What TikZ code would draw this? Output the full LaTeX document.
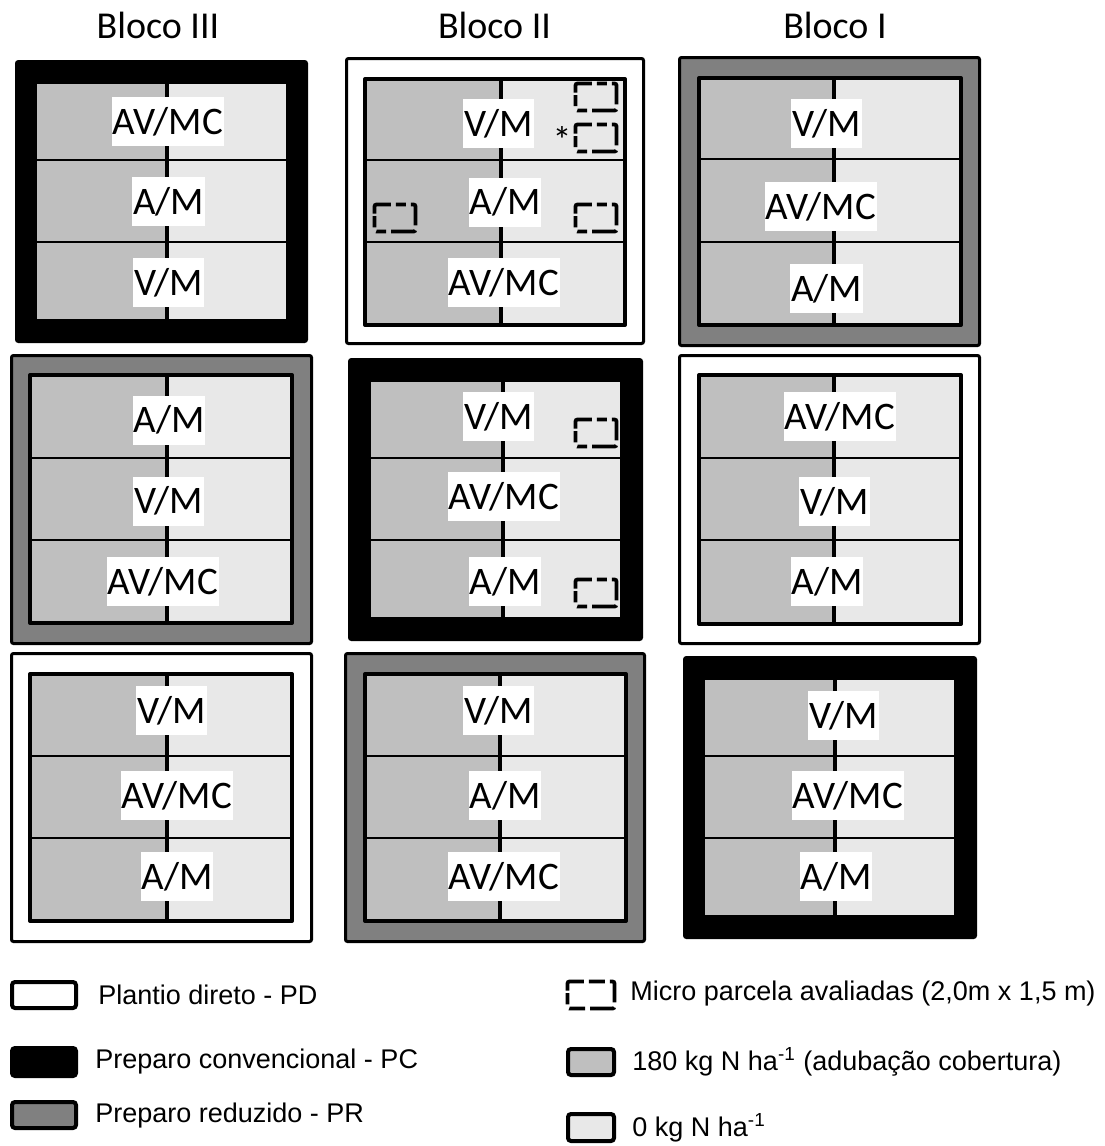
\documentclass[tikz,border=0pt]{standalone}
\usepackage{fontspec}
\setmainfont{Carlito}
\newfontfamily\legfont{Liberation Sans}
\definecolor{framegray}{HTML}{808080}
\definecolor{leftgray}{HTML}{BFBFBF}
\definecolor{rightgray}{HTML}{E8E8E8}
\newcommand\outerframe[6]{%
  \draw[outerst, fill=#2] (#3+1.5,#4+1.5) rectangle node[coordinate] (#1) {} (#5-1.5,#6-1.5);}
\newcommand\innerplot[8]{%
  \fill[leftgray] (#2+2,#3+2) rectangle (#6,#5-2);
  \fill[rightgray] (#6,#3+2) rectangle (#4-2,#5-2);
  \draw[hline] (#2+2,#7) -- (#4-2,#7) (#2+2,#8) -- (#4-2,#8);
  \draw[divline] (#6,#3+2) -- (#6,#5-2);
  \draw[innerst] (#2+2,#3+2) rectangle node[coordinate] (#1) {} (#4-2,#5-2);}
\newcommand\micro[3]{%
  \draw[microst] (#2+1.5,#3+15) -- (#2+1.5,#3+1.5) -- (#2+42.5,#3+1.5) -- (#2+42.5,#3+28.5) -- (#2+1.5,#3+28.5) -- cycle;
  \coordinate (#1) at (#2+22,#3+15);}
\tikzset{
  outerst/.style={draw=black, line width=1.5pt, rounded corners=1pt},
  innerst/.style={draw=black, line width=2pt, line join=round},
  hline/.style={draw=black, line width=1pt},
  divline/.style={draw=black, line width=2pt},
  lab/.style={fill=white, inner xsep=0.5pt, inner ysep=0pt, minimum height=24.5pt,
    text height=12.5pt, text depth=0pt, font=\fontsize{19.5pt}{23pt}\selectfont},
  ttl/.style={font=\fontsize{19pt}{23pt}\selectfont},
  microst/.style={draw=black, line width=1.9pt, rounded corners=1pt,
    dash pattern=on 12.25pt off 2.5pt on 5pt off 2.5pt on 12.25pt off 2.5pt, dash phase=35.75pt},
  legbox/.style={draw=black, line width=2pt, rounded corners=1.5pt},
  legtxt/.style={anchor=west, inner sep=0pt, font=\legfont\fontsize{13.5pt}{16pt}\selectfont}
}
\begin{document}
\begin{tikzpicture}[x=0.5pt,y=-0.5pt]
\useasboundingbox (0,0) rectangle (1104,1146);
% titles
\node[ttl] (t3) at (158,25) {Bloco III};
\node[ttl] (t2) at (494.5,25) {Bloco II};
\node[ttl] (t1) at (835,25) {Bloco I};
% row 1
\outerframe{o31}{black}{15}{60}{308}{343}
\innerplot{i31}{33}{80}{290}{323}{167}{160}{242}
\outerframe{o21}{white}{345}{57}{645}{345}
\innerplot{i21}{363}{77}{627}{327}{501}{160}{242}
\outerframe{o11}{framegray}{678}{56}{981}{347}
\innerplot{i11}{697}{76}{963}{327}{834}{159}{242}
% row 2
\outerframe{o32}{framegray}{10}{354}{313}{645}
\innerplot{i32}{28}{373}{294}{625}{167}{458}{540}
\outerframe{o22}{black}{348}{358}{643}{641}
\innerplot{i22}{367}{378}{624}{621}{503}{458}{540}
\outerframe{o12}{white}{678}{354}{981}{645}
\innerplot{i12}{697}{373}{963}{626}{834}{458}{540}
% row 3
\outerframe{o33}{white}{10}{652}{313}{943}
\innerplot{i33}{28}{672}{294}{923}{167}{756}{838}
\outerframe{o23}{framegray}{344}{652}{646}{943}
\innerplot{i23}{363}{672}{628}{923}{500}{756}{838}
\outerframe{o13}{black}{683}{656}{977}{939}
\innerplot{i13}{701}{676}{958}{919}{835}{756}{838}
% labels
\node[lab] (l31a) at (168,121.5) {AV/MC};
\node[lab] (l31b) at (168.5,201.5) {A/M};
\node[lab] (l31c) at (168.5,282.5) {V/M};
\node[lab] (l21a) at (498.5,123.5) {V/M};
\node[lab] (l21b) at (505,202) {A/M};
\node[lab] (l21c) at (504,282.5) {AV/MC};
\node[lab] (l11a) at (826.5,123.5) {V/M};
\node[lab] (l11b) at (821,206.5) {AV/MC};
\node[lab] (l11c) at (826.5,288.5) {A/M};
\node[lab] (l32a) at (169,420) {A/M};
\node[lab] (l32b) at (168.5,501) {V/M};
\node[lab] (l32c) at (163,581.5) {AV/MC};
\node[lab] (l22a) at (498.5,416.5) {V/M};
\node[lab] (l22b) at (504,496.5) {AV/MC};
\node[lab] (l22c) at (505,581.5) {A/M};
\node[lab] (l12a) at (840,416.5) {AV/MC};
\node[lab] (l12b) at (834.5,501.5) {V/M};
\node[lab] (l12c) at (827,581.5) {A/M};
\node[lab] (l33a) at (171.5,710.5) {V/M};
\node[lab] (l33b) at (177,795.5) {AV/MC};
\node[lab] (l33c) at (177,876.5) {A/M};
\node[lab] (l23a) at (498.5,710.5) {V/M};
\node[lab] (l23b) at (505,795.5) {A/M};
\node[lab] (l23c) at (504,876.5) {AV/MC};
\node[lab] (l13a) at (843.5,715.5) {V/M};
\node[lab] (l13b) at (848,795.5) {AV/MC};
\node[lab] (l13c) at (836,876.5) {A/M};
% micro plots
\micro{m1}{574}{82}
\micro{m2}{574}{123}
\node[ttl, inner sep=0pt] (ast) at (562,140) {*};
\micro{m3}{373}{203}
\micro{m4}{574}{203}
\micro{m5}{574}{418}
\micro{m6}{574}{578}
% legend
\draw[legbox, fill=white] (12,982) rectangle node[coordinate] (lg1) {} (76,1008);
\node[legtxt] (lt1) at (98,995) {Plantio direto - PD};
\draw[legbox, fill=black] (12,1048) rectangle node[coordinate] (lg2) {} (76,1076);
\node[legtxt] (lt2) at (95,1062) {Preparo convencional - PC};
\draw[legbox, fill=framegray] (12,1102) rectangle node[coordinate] (lg3) {} (76,1128);
\node[legtxt] (lt3) at (95,1116) {Preparo reduzido - PR};
\draw[microst, dash pattern=on 12.25pt off 2.5pt on 8pt off 2.5pt on 12.25pt off 2.5pt, dash phase=38.75pt]
  (567.5,995) -- (567.5,981.5) -- (614.5,981.5) -- (614.5,1008.5) -- (567.5,1008.5) -- cycle;
\coordinate (lg4) at (591,995);
\node[legtxt] (lt4) at (630,994) {Micro parcela avaliadas (2,0m x 1,5 m)};
\draw[legbox, fill=leftgray] (568,1049) rectangle node[coordinate] (lg5) {} (614,1075);
\node[legtxt] (lt5) at (632,1062) {180 kg N ha\textsuperscript{-1} (adubação cobertura)};
\draw[legbox, fill=rightgray] (568,1114) rectangle node[coordinate] (lg6) {} (614,1141);
\node[legtxt] (lt6) at (632,1128) {0 kg N ha\textsuperscript{-1}};
\end{tikzpicture}
\end{document}
